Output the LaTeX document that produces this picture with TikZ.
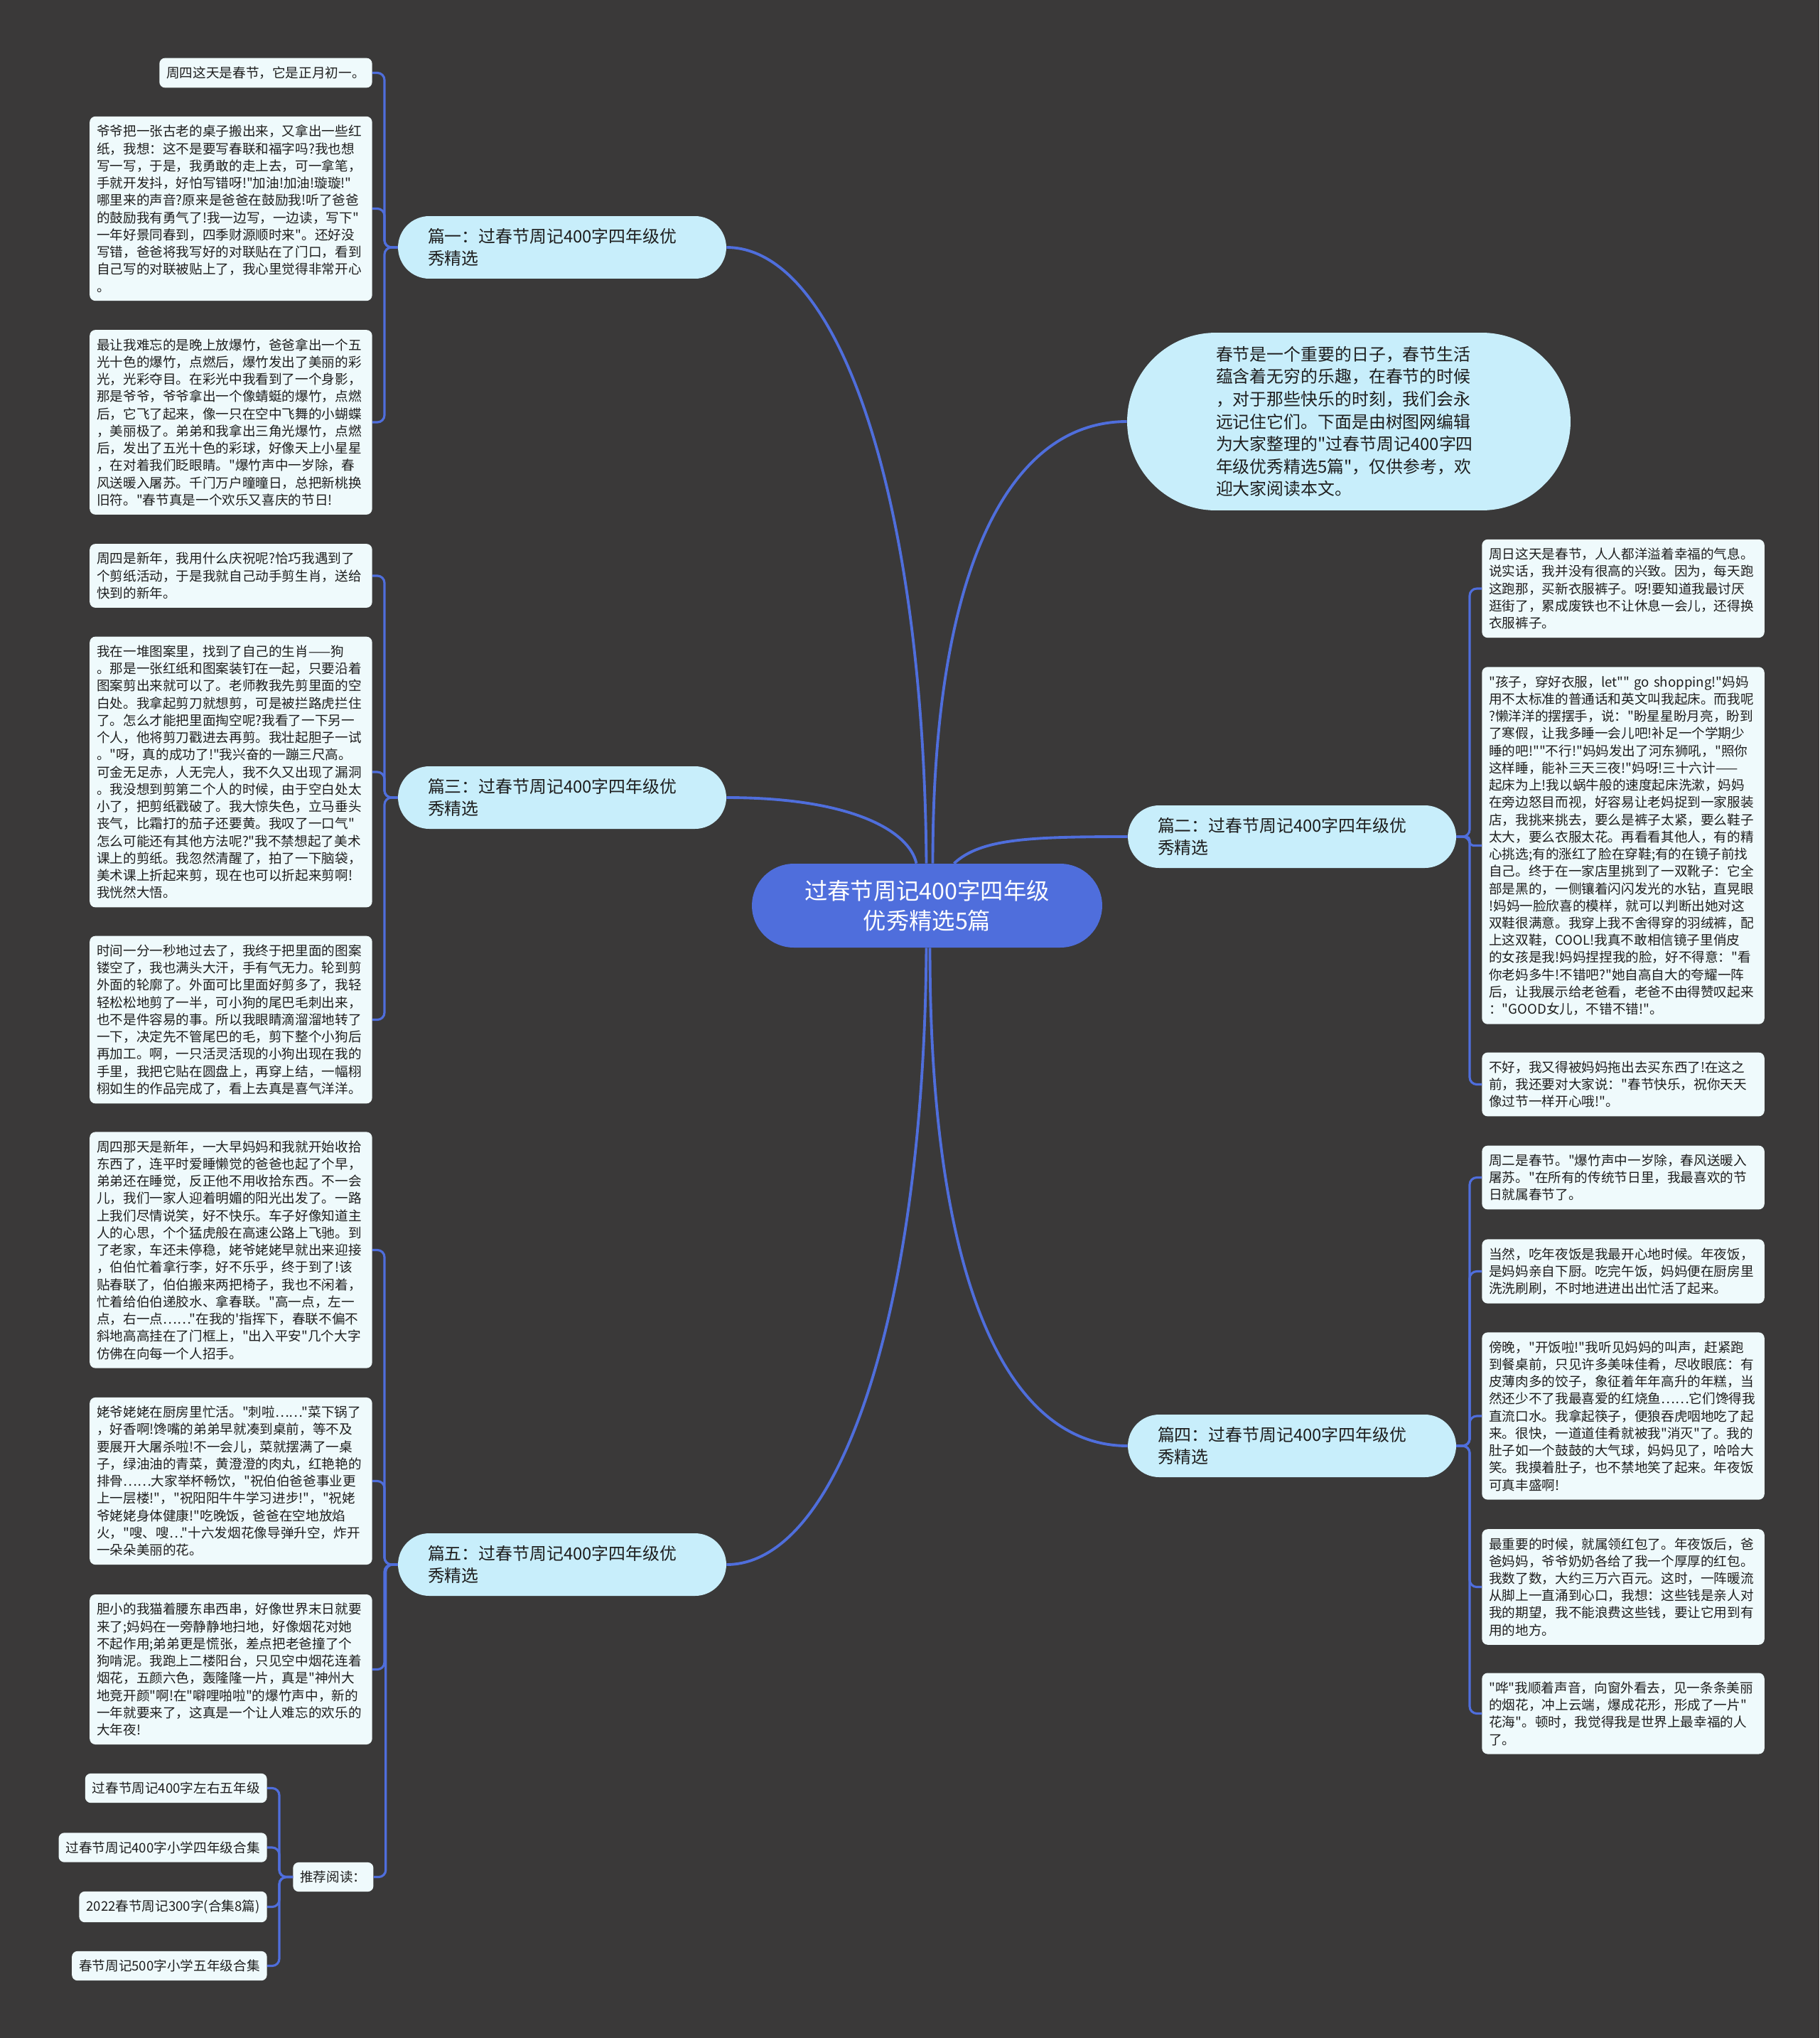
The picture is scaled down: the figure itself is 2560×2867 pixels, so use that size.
\documentclass[tikz,border=0pt]{standalone}
\usepackage{fontspec}
\setmainfont{Noto Sans CJK SC}[Ligatures=TeXOff]
\usepackage{tikz}
\usetikzlibrary{calc}
\definecolor{bg}{HTML}{3A3939}
\definecolor{link}{HTML}{4F6EDC}
\definecolor{pale}{HTML}{C8EEFB}
\definecolor{paper}{HTML}{EFFAFC}
\definecolor{ink}{HTML}{1E1E1E}
\newcommand{\leaffont}{\fontsize{10.6}{13.8}\selectfont}
\newcommand{\pillfont}{\fontsize{13.6}{18}\selectfont}
\newcommand{\rootfont}{\fontsize{18.4}{24}\selectfont}
\tikzset{rootnode/.style={fill=link,text=white,font=\rootfont,align=center,minimum width=9.86cm,minimum height=2.36cm,rounded corners=1.18cm},intro/.style={fill=pale,text=ink,font=\pillfont,align=left,text width=7.48cm,minimum width=12.48cm,minimum height=5cm,rounded corners=2.5cm},pill/.style={fill=pale,text=ink,font=\pillfont,align=left,text width=7.56cm,minimum width=9.24cm,minimum height=1.76cm,rounded corners=0.88cm},leaf/.style={fill=paper,text=ink,font=\leaffont,align=left,inner xsep=0.2cm,inner ysep=0.24cm,rounded corners=0.16cm},wideleaf/.style={leaf,text width=7.55cm},bough/.style={draw=link,line width=2.2pt},twig/.style={draw=link,line width=1.8pt,rounded corners=0.2cm}}
\begin{document}
\begin{tikzpicture}[x=0.02cm,y=-0.02cm]
\fill[bg] (0,0) rectangle (2560,2867);
\useasboundingbox (0,0) rectangle (2560,2867);
% root and main topics
\node[rootnode] (root) at (1304.5,1274) {过春节周记400字四年级\\优秀精选5篇};
\node[intro] (intro) at (1898,593) {春节是一个重要的日子，春节生活\\蕴含着无穷的乐趣，在春节的时候\\，对于那些快乐的时刻，我们会永\\远记住它们。下面是由树图网编辑\\为大家整理的"过春节周记400字四\\年级优秀精选5篇"，仅供参考，欢\\迎大家阅读本文。};
\node[pill] (p1) at (791,348) {篇一：过春节周记400字四年级优\\秀精选};
\node[pill] (p3) at (791,1122) {篇三：过春节周记400字四年级优\\秀精选};
\node[pill] (p5) at (791,2201) {篇五：过春节周记400字四年级优\\秀精选};
\node[pill] (p2) at (1818,1177) {篇二：过春节周记400字四年级优\\秀精选};
\node[pill] (p4) at (1818,2034) {篇四：过春节周记400字四年级优\\秀精选};
% left leaves
\node[leaf,anchor=east] (l1a) at (524,102.5) {周四这天是春节，它是正月初一。};
\node[wideleaf,anchor=east] (l1b) at (524,293.5) {爷爷把一张古老的桌子搬出来，又拿出一些红\\纸，我想：这不是要写春联和福字吗?我也想\\写一写，于是，我勇敢的走上去，可一拿笔，\\手就开发抖，好怕写错呀!"加油!加油!璇璇!"\\哪里来的声音?原来是爸爸在鼓励我!听了爸爸\\的鼓励我有勇气了!我一边写，一边读，写下"\\一年好景同春到，四季财源顺时来"。还好没\\写错，爸爸将我写好的对联贴在了门口，看到\\自己写的对联被贴上了，我心里觉得非常开心\\。};
\node[wideleaf,anchor=east] (l1c) at (524,594) {最让我难忘的是晚上放爆竹，爸爸拿出一个五\\光十色的爆竹，点燃后，爆竹发出了美丽的彩\\光，光彩夺目。在彩光中我看到了一个身影，\\那是爷爷，爷爷拿出一个像蜻蜓的爆竹，点燃\\后，它飞了起来，像一只在空中飞舞的小蝴蝶\\，美丽极了。弟弟和我拿出三角光爆竹，点燃\\后，发出了五光十色的彩球，好像天上小星星\\，在对着我们眨眼睛。"爆竹声中一岁除，春\\风送暖入屠苏。千门万户曈曈日，总把新桃换\\旧符。"春节真是一个欢乐又喜庆的节日!};
\node[wideleaf,anchor=east] (l3a) at (524,810) {周四是新年，我用什么庆祝呢?恰巧我遇到了\\个剪纸活动，于是我就自己动手剪生肖，送给\\快到的新年。};
\node[wideleaf,anchor=east] (l3b) at (524,1086) {我在一堆图案里，找到了自己的生肖——狗\\。那是一张红纸和图案装钉在一起，只要沿着\\图案剪出来就可以了。老师教我先剪里面的空\\白处。我拿起剪刀就想剪，可是被拦路虎拦住\\了。怎么才能把里面掏空呢?我看了一下另一\\个人，他将剪刀戳进去再剪。我壮起胆子一试\\。"呀，真的成功了!"我兴奋的一蹦三尺高。\\可金无足赤，人无完人，我不久又出现了漏洞\\。我没想到剪第二个人的时候，由于空白处太\\小了，把剪纸戳破了。我大惊失色，立马垂头\\丧气，比霜打的茄子还要黄。我叹了一口气"\\怎么可能还有其他方法呢?"我不禁想起了美术\\课上的剪纸。我忽然清醒了，拍了一下脑袋，\\美术课上折起来剪，现在也可以折起来剪啊!\\我恍然大悟。};
\node[wideleaf,anchor=east] (l3c) at (524,1434.5) {时间一分一秒地过去了，我终于把里面的图案\\镂空了，我也满头大汗，手有气无力。轮到剪\\外面的轮廓了。外面可比里面好剪多了，我轻\\轻松松地剪了一半，可小狗的尾巴毛刺出来，\\也不是件容易的事。所以我眼睛滴溜溜地转了\\一下，决定先不管尾巴的毛，剪下整个小狗后\\再加工。啊，一只活灵活现的小狗出现在我的\\手里，我把它贴在圆盘上，再穿上结，一幅栩\\栩如生的作品完成了，看上去真是喜气洋洋。};
\node[wideleaf,anchor=east] (l5a) at (524,1758.5) {周四那天是新年，一大早妈妈和我就开始收拾\\东西了，连平时爱睡懒觉的爸爸也起了个早，\\弟弟还在睡觉，反正他不用收拾东西。不一会\\儿，我们一家人迎着明媚的阳光出发了。一路\\上我们尽情说笑，好不快乐。车子好像知道主\\人的心思，个个猛虎般在高速公路上飞驰。到\\了老家，车还未停稳，姥爷姥姥早就出来迎接\\，伯伯忙着拿行李，好不乐乎，终于到了!该\\贴春联了，伯伯搬来两把椅子，我也不闲着，\\忙着给伯伯递胶水、拿春联。"高一点，左一\\点，右一点……"在我的'指挥下，春联不偏不\\斜地高高挂在了门框上，"出入平安"几个大字\\仿佛在向每一个人招手。};
\node[wideleaf,anchor=east] (l5b) at (524,2083.5) {姥爷姥姥在厨房里忙活。"刺啦……"菜下锅了\\，好香啊!馋嘴的弟弟早就凑到桌前，等不及\\要展开大屠杀啦!不一会儿，菜就摆满了一桌\\子，绿油油的青菜，黄澄澄的肉丸，红艳艳的\\排骨……大家举杯畅饮，"祝伯伯爸爸事业更\\上一层楼!"，"祝阳阳牛牛学习进步!"，"祝姥\\爷姥姥身体健康!"吃晚饭，爸爸在空地放焰\\火，"嗖、嗖…"十六发烟花像导弹升空，炸开\\一朵朵美丽的花。};
\node[wideleaf,anchor=east] (l5c) at (524,2348.5) {胆小的我猫着腰东串西串，好像世界末日就要\\来了;妈妈在一旁静静地扫地，好像烟花对她\\不起作用;弟弟更是慌张，差点把老爸撞了个\\狗啃泥。我跑上二楼阳台，只见空中烟花连着\\烟花，五颜六色，轰隆隆一片，真是"神州大\\地竞开颜"啊!在"噼哩啪啦"的爆竹声中，新的\\一年就要来了，这真是一个让人难忘的欢乐的\\大年夜!};
% recommended reading
\node[leaf,anchor=west] (tj) at (412,2640.5) {推荐阅读：};
\node[leaf,anchor=east] (k1) at (376,2515.5) {过春节周记400字左右五年级};
\node[leaf,anchor=east] (k2) at (376,2599) {过春节周记400字小学四年级合集};
\node[leaf,anchor=east] (k3) at (376,2682.5) {2022春节周记300字(合集8篇)};
\node[leaf,anchor=east] (k4) at (376,2765.5) {春节周记500字小学五年级合集};
% right leaves
\node[wideleaf,anchor=west] (r2a) at (2085,828) {周日这天是春节，人人都洋溢着幸福的气息。\\说实话，我并没有很高的兴致。因为，每天跑\\这跑那，买新衣服裤子。呀!要知道我最讨厌\\逛街了，累成废铁也不让休息一会儿，还得换\\衣服裤子。};
\node[wideleaf,anchor=west] (r2b) at (2085,1189.5) {"孩子，穿好衣服，let""~go~shopping!"妈妈\\用不太标准的普通话和英文叫我起床。而我呢\\?懒洋洋的摆摆手，说："盼星星盼月亮，盼到\\了寒假，让我多睡一会儿吧!补足一个学期少\\睡的吧!""不行!"妈妈发出了河东狮吼，"照你\\这样睡，能补三天三夜!"妈呀!三十六计——\\起床为上!我以蜗牛般的速度起床洗漱，妈妈\\在旁边怒目而视，好容易让老妈捉到一家服装\\店，我挑来挑去，要么是裤子太紧，要么鞋子\\太大，要么衣服太花。再看看其他人，有的精\\心挑选;有的涨红了脸在穿鞋;有的在镜子前找\\自己。终于在一家店里挑到了一双靴子：它全\\部是黑的，一侧镶着闪闪发光的水钻，直晃眼\\!妈妈一脸欣喜的模样，就可以判断出她对这\\双鞋很满意。我穿上我不舍得穿的羽绒裤，配\\上这双鞋，COOL!我真不敢相信镜子里俏皮\\的女孩是我!妈妈捏捏我的脸，好不得意："看\\你老妈多牛!不错吧?"她自高自大的夸耀一阵\\后，让我展示给老爸看，老爸不由得赞叹起来\\："GOOD女儿，不错不错!"。};
\node[wideleaf,anchor=west] (r2c) at (2085,1525.5) {不好，我又得被妈妈拖出去买东西了!在这之\\前，我还要对大家说："春节快乐，祝你天天\\像过节一样开心哦!"。};
\node[wideleaf,anchor=west] (r4a) at (2085,1656.5) {周二是春节。"爆竹声中一岁除，春风送暖入\\屠苏。"在所有的传统节日里，我最喜欢的节\\日就属春节了。};
\node[wideleaf,anchor=west] (r4b) at (2085,1788.5) {当然，吃年夜饭是我最开心地时候。年夜饭，\\是妈妈亲自下厨。吃完午饭，妈妈便在厨房里\\洗洗刷刷，不时地进进出出忙活了起来。};
\node[wideleaf,anchor=west] (r4c) at (2085,1992) {傍晚，"开饭啦!"我听见妈妈的叫声，赶紧跑\\到餐桌前，只见许多美味佳肴，尽收眼底：有\\皮薄肉多的饺子，象征着年年高升的年糕，当\\然还少不了我最喜爱的红烧鱼……它们馋得我\\直流口水。我拿起筷子，便狼吞虎咽地吃了起\\来。很快，一道道佳肴就被我"消灭"了。我的\\肚子如一个鼓鼓的大气球，妈妈见了，哈哈大\\笑。我摸着肚子，也不禁地笑了起来。年夜饭\\可真丰盛啊!};
\node[wideleaf,anchor=west] (r4d) at (2085,2232.5) {最重要的时候，就属领红包了。年夜饭后，爸\\爸妈妈，爷爷奶奶各给了我一个厚厚的红包。\\我数了数，大约三万六百元。这时，一阵暖流\\从脚上一直涌到心口，我想：这些钱是亲人对\\我的期望，我不能浪费这些钱，要让它用到有\\用的地方。};
\node[wideleaf,anchor=west] (r4e) at (2085,2410.5) {"哗"我顺着声音，向窗外看去，见一条条美丽\\的烟花，冲上云端，爆成花形，形成了一片"\\花海"。顿时，我觉得我是世界上最幸福的人\\了。};
% root to topics
\draw[bough] ($(root.north)+(-1,0)$) .. controls +(-4,-515) and +(158,0) .. (p1.east);
\draw[bough] ($(root.north)+(8,0)$) .. controls +(0,-415) and +(-166,0) .. (intro.west);
\draw[bough] ($(root.north)+(38,0)$) .. controls +(37,-35) and +(-137,0) .. (p2.west);
\draw[bough] ($(root.north)+(-15,0)$) .. controls +(-10,-45) and +(178,0) .. (p3.east);
\draw[bough] ($(root.south)+(4,0)$) .. controls +(0,470) and +(-170,0) .. (p4.west);
\draw[bough] ($(root.south)+(-1,0)$) .. controls +(-4,516) and +(158,0) .. (p5.east);
% topics to leaves
\foreach \t/\l in {p1/l1a,p1/l1b,p1/l1c,p3/l3a,p3/l3b,p3/l3c,p5/l5a,p5/l5b,p5/l5c,p5/tj,tj/k1,tj/k2,tj/k3,tj/k4}
  \draw[twig] (\t.west) -| ($(\l.east)+(17,0)$) -- (\l.east);
\foreach \t/\l in {p2/r2a,p2/r2c,p4/r4a,p4/r4b,p4/r4c,p4/r4d,p4/r4e}
  \draw[twig] (\t.east) -| ($(\l.west)+(-17,0)$) -- (\l.west);
\draw[twig,rounded corners=0.1cm] (p2.east) -| ($(r2b.west)+(-17,0)$) -- (r2b.west);
\end{tikzpicture}
\end{document}
